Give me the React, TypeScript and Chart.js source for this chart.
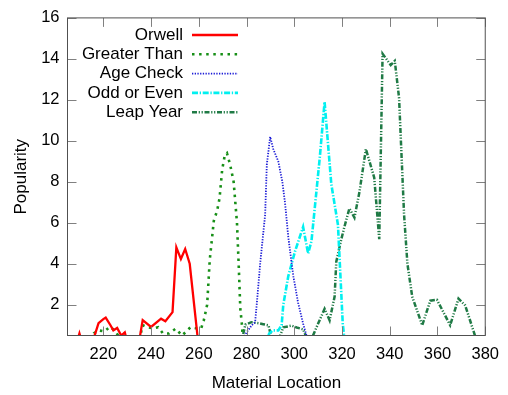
import React, { useEffect, useRef } from "react";
import { Chart, registerables } from "chart.js";

Chart.register(...registerables);

const FONT = '"Liberation Sans", Arial, Helvetica, sans-serif';

const seriesNames = ["Orwell", "Greater Than", "Age Check", "Odd or Even", "Leap Year"];
const xTickValues = [220, 240, 260, 280, 300, 320, 340, 360, 380];
const yTickValues = [2, 4, 6, 8, 10, 12, 14, 16];
const xTitle = "Material Location";
const yTitle = "Popularity";

const orwellX = [208.5, 210, 211.5, 215, 218, 220, 221, 223, 224.2, 225.8, 227.5, 229, 230.5, 234.7, 236.5, 240, 244.2, 246, 249, 250.6, 252.5, 254.3, 256.2, 259.9];
const orwellY = [0, 0.6, 0, 0, 1.1, 1.3, 1.37, 1.0, 0.75, 0.87, 0.5, 0.65, 0, 0, 1.25, 0.92, 1.32, 1.2, 1.64, 4.8, 4.23, 4.72, 4.0, 0];

const greaterX = [213, 216, 218, 220.5, 222.7, 224.8, 226.2, 228, 234.5, 236.5, 238.5, 241, 243, 245, 247.5, 250.3, 253, 256.5, 259.4, 261, 262.1, 263.5, 264.6, 266.3, 267.7, 268.7, 269.8, 270.9, 271.8, 273.2, 274.6, 276, 276.7, 277.4, 278.1, 278.6];
const greaterY = [0, 0.6, 0.75, 0.7, 0.92, 0.75, 0.5, 0, 0, 1.0, 0.9, 0.85, 0.9, 0.6, 0.6, 0.83, 0.5, 0.9, 0.84, 0.85, 1.24, 2.0, 4.2, 6.1, 6.6, 7.2, 8.6, 9.3, 9.4, 8.8, 8.0, 6.0, 4.0, 1.8, 1.0, 0];

const ageX = [277, 280, 282.2, 283.6, 284.3, 285.7, 287.1, 287.8, 288.5, 289.9, 291.2, 293.3, 295, 296.1, 297.5, 299.6, 301.6, 303.7, 305.1, 305.5];
const ageY = [0, 0.65, 1.0, 1.15, 2.05, 3.99, 5.6, 6.4, 8.84, 10.2, 9.6, 9.0, 8.0, 7.0, 5.3, 3.4, 2.1, 1.08, 0.5, 0];

const oddX = [288, 289.5, 291, 293.3, 294.7, 295.4, 297.5, 300.3, 303.7, 305.8, 307.2, 310.7, 312.7, 315.5, 318.3, 320.3, 321.3];
const oddY = [0, 0.6, 0.75, 0.75, 1.0, 2.0, 3.4, 4.6, 5.8, 4.5, 5.1, 9.2, 11.9, 7.9, 5.9, 1.1, 0];

const leapX = [264, 265, 266, 277.5, 279.5, 282, 285, 287, 289.2, 290, 292.5, 295.4, 298.9, 301, 303.7, 304.8, 305.5, 306, 310, 312.7, 314.8, 316.9, 317.6, 319.5, 321, 323.1, 325.2, 327.3, 330, 333.5, 334.9, 335.6, 337, 340.4, 342.1, 343.9, 346, 347.4, 349.4, 351.5, 353.6, 357, 359.8, 365.3, 368.8, 371.6, 375.7, 376.3];
const leapY = [0, 0.55, 0, 0, 1.03, 1.15, 1.1, 1.05, 1.0, 0.6, 0, 0.9, 0.98, 0.89, 0.8, 0.5, 0, 0, 1.08, 1.8, 1.24, 2.4, 4.1, 5.1, 5.8, 6.7, 6.25, 7.5, 9.6, 8.2, 6.2, 5.2, 14.25, 13.7, 13.9, 12.1, 6.4, 4.0, 2.4, 1.7, 1.0, 2.2, 2.24, 1.0, 2.3, 1.97, 0.5, 0];

const seriesX = [orwellX, greaterX, ageX, oddX, leapX];
const seriesY = [orwellY, greaterY, ageY, oddY, leapY];

const styles = [
  { color: "#ff0000", width: 2.3, dash: [] as number[] },
  { color: "#178f17", width: 2.6, dash: [2.5, 4.6] },
  { color: "#1c1cd6", width: 1.8, dash: [1.3, 1.4] },
  { color: "#00f0f0", width: 2.6, dash: [6, 1.7, 1.3, 1.7] },
  { color: "#1f7a45", width: 2.5, dash: [5, 1.7, 1.2, 1.7, 1.2, 1.7] },
];

const frameAndLegend = {
  id: "frameAndLegend",
  afterDraw(chart: any) {
    const { ctx, chartArea: a, scales } = chart;
    const xs = scales.x;
    const ys = scales.y;
    ctx.save();
    // ticks (inward, mirrored)
    ctx.strokeStyle = "#808080";
    ctx.lineWidth = 1;
    ctx.setLineDash([]);
    const tl = 9;
    ctx.beginPath();
    xTickValues.forEach((v) => {
      const p = Math.round(xs.getPixelForValue(v)) + 0.5;
      ctx.moveTo(p, a.bottom);
      ctx.lineTo(p, a.bottom - tl);
      ctx.moveTo(p, a.top);
      ctx.lineTo(p, a.top + tl);
    });
    yTickValues.forEach((v) => {
      const p = Math.round(ys.getPixelForValue(v)) + 0.5;
      ctx.moveTo(a.left, p);
      ctx.lineTo(a.left + tl, p);
      ctx.moveTo(a.right, p);
      ctx.lineTo(a.right - tl, p);
    });
    ctx.stroke();
    // border
    ctx.strokeStyle = "#505050";
    ctx.strokeRect(a.left, a.top, a.right - a.left, a.bottom - a.top);

    // legend
    ctx.font = `17px ${FONT}`;
    ctx.textAlign = "right";
    ctx.textBaseline = "middle";
    chart.data.datasets.forEach((ds: any, i: number) => {
      const y = 35 + i * 19.3;
      ctx.fillStyle = "#000";
      ctx.fillText(ds.label, 183, y);
      ctx.beginPath();
      ctx.strokeStyle = ds.borderColor;
      ctx.lineWidth = ds.borderWidth;
      ctx.setLineDash(ds.borderDash || []);
      ctx.moveTo(192, y);
      ctx.lineTo(238, y);
      ctx.stroke();
    });
    ctx.restore();
  },
};

export default function App() {
  const ref = useRef<HTMLCanvasElement | null>(null);
  useEffect(() => {
    if (!ref.current) return;
    const datasets = seriesNames.map((name, i) => ({
      label: name,
      data: seriesX[i].map((x, j) => ({ x, y: seriesY[i][j] })),
      borderColor: styles[i].color,
      backgroundColor: styles[i].color,
      borderWidth: styles[i].width,
      borderDash: styles[i].dash,
      pointRadius: 0,
      tension: 0,
      fill: false,
    }));
    const chart = new Chart(ref.current, {
      type: "line",
      data: { datasets },
      options: {
        animation: false,
        responsive: false,
        devicePixelRatio: 1,
        layout: { padding: { top: 15.5, right: 19.5, left: 0, bottom: 0 } },
        plugins: { legend: { display: false }, tooltip: { enabled: false } },
        scales: {
          x: {
            type: "linear",
            min: 205,
            max: 380,
            grid: { display: false, drawTicks: false },
            border: { display: false },
            afterBuildTicks: (s: any) => {
              s.ticks = xTickValues.map((v) => ({ value: v }));
            },
            afterFit: (s: any) => {
              s.height = 59.5;
            },
            ticks: {
              color: "#000",
              font: { family: FONT, size: 16.5 },
              padding: 9,
              maxRotation: 0,
              autoSkip: false,
            },
            title: {
              display: true,
              text: xTitle,
              color: "#000",
              font: { family: FONT, size: 17 },
              padding: { top: 0, bottom: 1 },
            },
          },
          y: {
            type: "linear",
            min: 0.5,
            max: 16,
            grid: { display: false, drawTicks: false },
            border: { display: false },
            afterBuildTicks: (s: any) => {
              s.ticks = yTickValues.map((v) => ({ value: v }));
            },
            afterFit: (s: any) => {
              s.width = 67.5;
            },
            ticks: {
              color: "#000",
              font: { family: FONT, size: 16.5 },
              padding: 8,
              autoSkip: false,
            },
            title: {
              display: true,
              text: yTitle,
              color: "#000",
              font: { family: FONT, size: 17 },
              padding: { top: 11, bottom: 0 },
            },
          },
        },
      },
      plugins: [frameAndLegend],
    });
    return () => chart.destroy();
  }, []);
  return (
    <div style={{ position: "fixed", left: 0, top: 0, width: 508, height: 395, background: "#fff" }}>
      <canvas ref={ref} width={508} height={395} style={{ display: "block" }} />
    </div>
  );
}
